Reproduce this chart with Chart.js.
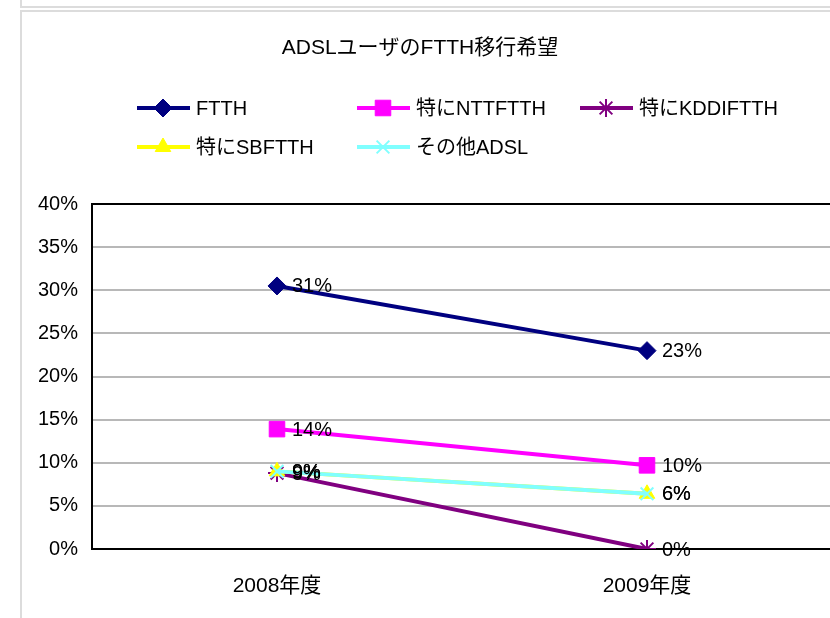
<!DOCTYPE html>
<html>
<head>
<meta charset="utf-8">
<script src="https://cdn.jsdelivr.net/npm/chart.js@4"></script>
<style>
  body { margin: 0; background: #fff; overflow: hidden; width: 830px; height: 618px; position: relative; }
  .ln { position: absolute; background: #dcdcdc; }
  #wrap { position: absolute; left: 0; top: 0; width: 844px; height: 618px; }
</style>
</head>
<body>
<div class="ln" style="left:20px;top:0;width:2px;height:7px"></div>
<div class="ln" style="left:20px;top:6px;width:810px;height:2px"></div>
<div class="ln" style="left:20px;top:10px;width:810px;height:2px"></div>
<div class="ln" style="left:20px;top:10px;width:2px;height:608px"></div>
<div id="wrap"><canvas id="grafico"></canvas></div>
<script>
// datos
const titulo = "ADSLユーザのFTTH移行希望";
const anios = ["2008年度", "2009年度"];
const nombres = ["FTTH", "特にNTTFTTH", "特にKDDIFTTH", "特にSBFTTH", "その他ADSL"];
const ftth = [30.5, 23.0];
const ntt = [13.9, 9.7];
const kddi = [8.8, 0.0];
const sb = [9.0, 6.4];
const otros = [9.0, 6.4];
const ejeY = [0, 5, 10, 15, 20, 25, 30, 35, 40];

const colores = ["#000080", "#ff00ff", "#800080", "#ffff00", "#80ffff"];
const marcas = ["rectRot", "rect", "star", "triangle", "crossRot"];
const radios = [9, 11, 9, 9, 9];
const series = [ftth, ntt, kddi, sb, otros];

const fuente = "'Liberation Sans Narrow', 'Liberation Sans', 'Noto Sans CJK JP', sans-serif";

const datasets = series.map((d, i) => ({
    label: nombres[i],
    data: d,
    borderColor: colores[i],
    backgroundColor: colores[i],
    borderWidth: 4,
    pointStyle: marcas[i],
    pointRadius: radios[i],
    pointHoverRadius: radios[i],
    pointBorderWidth: (marcas[i] === "star" || marcas[i] === "crossRot") ? 2 : 1,
    tension: 0,
    order: series.length - i
}));

// etiquetas de valores
const etiquetas = {
    id: "etiquetas",
    afterDatasetsDraw(chart) {
        const ctx = chart.ctx;
        ctx.save();
        ctx.font = "20px " + fuente;
        ctx.fillStyle = "#000";
        ctx.textAlign = "left";
        ctx.textBaseline = "middle";
        chart.data.datasets.forEach((ds, i) => {
            const meta = chart.getDatasetMeta(i);
            meta.data.forEach((p, j) => {
                ctx.fillText(Math.round(ds.data[j]) + "%", p.x + 15, p.y + 1);
            });
        });
        ctx.restore();
    }
};

// titulo y leyenda
const leyenda = {
    id: "leyenda",
    afterDraw(chart) {
        const ctx = chart.ctx;
        ctx.save();
        ctx.font = "21px " + fuente;
        ctx.fillStyle = "#000";
        ctx.textAlign = "center";
        ctx.textBaseline = "middle";
        ctx.fillText(titulo, 420, 48);

        const cols = [137, 357, 580];
        const filas = [108, 147];
        ctx.font = "20px " + fuente;
        ctx.textAlign = "left";
        nombres.forEach((n, i) => {
            const x = cols[i % 3];
            const y = filas[Math.floor(i / 3)];
            ctx.strokeStyle = colores[i];
            ctx.fillStyle = colores[i];
            ctx.lineWidth = 4;
            ctx.beginPath();
            ctx.moveTo(x, y);
            ctx.lineTo(x + 53, y);
            ctx.stroke();
            ctx.lineWidth = datasets[i].pointBorderWidth;
            Chart.helpers.drawPoint(ctx, {
                pointStyle: marcas[i],
                radius: radios[i],
                rotation: 0,
                borderWidth: datasets[i].pointBorderWidth
            }, x + 26, y);
            ctx.fillStyle = "#000";
            ctx.fillText(n, x + 59, y + 1);
        });
        ctx.restore();
    }
};

new Chart(document.getElementById("grafico"), {
    type: "line",
    data: { labels: anios, datasets: datasets },
    plugins: [etiquetas, leyenda],
    options: {
        responsive: true,
        maintainAspectRatio: false,
        animation: false,
        layout: { padding: { top: 204, right: 6, left: 0, bottom: 0 } },
        plugins: {
            legend: { display: false },
            title: { display: false },
            tooltip: { enabled: false }
        },
        scales: {
            x: {
                offset: true,
                grid: { display: false },
                border: { display: true, color: "#000", width: 2 },
                ticks: { color: "#000", font: { family: fuente, size: 21 }, padding: 17 },
                afterFit: (s) => { s.height = 69; }
            },
            y: {
                min: ejeY[0],
                max: ejeY[ejeY.length - 1],
                afterBuildTicks: (s) => { s.ticks = ejeY.map(v => ({ value: v })); },
                grid: {
                    drawTicks: false,
                    color: (c) => (c.tick && c.tick.value === 40) ? "#000" : "#b8b8b8",
                    lineWidth: 2
                },
                border: { display: true, color: "#000", width: 2 },
                ticks: {
                    color: "#000",
                    padding: 14,
                    font: { family: fuente, size: 20 },
                    callback: (v) => v + "%"
                },
                afterFit: (s) => { s.width = 92; }
            }
        }
    }
});
</script>
</body>
</html>
